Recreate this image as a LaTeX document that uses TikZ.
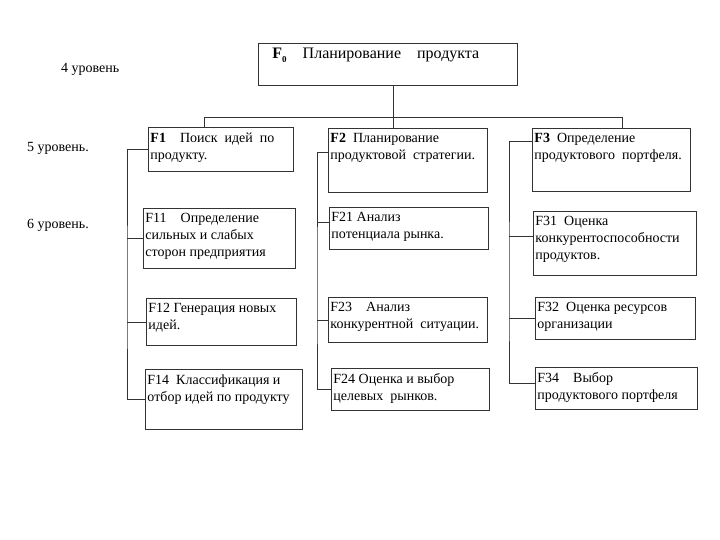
\documentclass[tikz,border=0pt]{standalone}
\usepackage{fontspec}
\setmainfont{Liberation Serif}
\usetikzlibrary{positioning}

% box text: width, height, lines
\newcommand{\cell}[3]{\parbox[t][#2pt][t]{#1pt}{\vspace*{3pt}\raggedright #3}}

\begin{document}
\begin{tikzpicture}[x=1pt,y=-1pt,
   blok/.style={draw=black!80,line width=0.9pt,anchor=north west,inner sep=2pt,
                font=\fontsize{14}{17}\selectfont},
   level/.style={anchor=west,inner sep=0pt,font=\fontsize{14}{16}\selectfont},
   link/.style={draw=black!80,line width=0.9pt}]
   \useasboundingbox (0,0) rectangle (720,540);
   % levels
   \node[level] (lvl4) at (61,69) {4 уровень};
   \node[level] (lvl5) at (27,148) {5 уровень.};
   \node[level] (lvl6) at (27,225) {6 уровень.};
   % boxes
   \node[blok,font=\fontsize{16}{18}\selectfont] (F0) at (258,43)
      {\cell{255}{38}{\hspace*{12pt}\textbf{F}\raisebox{-0.45ex}{\textbf{\small 0}}\quad Планирование\quad продукта}};
   \node[blok] (F1) at (148,127) {\cell{141}{40}{\textbf{F1}\quad Поиск\ \ идей\ \ по\\продукту.}};
   \node[blok] (F2) at (328,128) {\cell{155}{60}{\textbf{F2}\enspace Планирование\\продуктовой\ \ стратегии.}};
   \node[blok] (F3) at (532,128) {\cell{154}{59}{\textbf{F3}\enspace Определение\\продуктового\enspace портфеля.}};
   \node[blok] (F11) at (143,208) {\cell{148}{56}{F11\quad Определение\\сильных и слабых\\сторон предприятия}};
   \node[blok] (F12) at (146,298) {\cell{146}{43}{F12 Генерация новых\\идей.}};
   \node[blok] (F14) at (145,369) {\cell{153}{56}{F14\enspace Классификация и\\отбор идей по продукту}};
   \node[blok] (F21) at (329,207) {\cell{155}{38}{F21 Анализ\\потенциала рынка.}};
   \node[blok] (F23) at (328,297) {\cell{155}{41}{F23\quad Анализ\\конкурентной\enspace ситуации.}};
   \node[blok] (F24) at (331,368) {\cell{154}{38}{F24 Оценка и выбор\\целевых\enspace рынков.}};
   \node[blok] (F31) at (533,211) {\cell{159}{60}{F31\enspace Оценка\\конкурентоспособности\\продуктов.}};
   \node[blok] (F32) at (535,297) {\cell{156}{38}{F32\enspace Оценка ресурсов\\организации}};
   \node[blok] (F34) at (535,367) {\cell{158}{38}{F34\quad Выбор\\продуктового портфеля}};
   % connectors
   \coordinate (hub) at (393,117);
   \coordinate (busL) at (204,117);
   \coordinate (busR) at (622,117);
   \coordinate (b1) at (127,300);
   \coordinate (b2) at (317,300);
   \coordinate (b3) at (509,300);
   \draw[link] (hub |- F0.south) -- (hub |- F2.north);
   \draw[link] (busL |- F1.north) -- (busL) -- (busR) -- (busR |- F3.north);
   \draw[link] (F1.west) -| (b1) |- (F14.west);
   \draw[link] (F11.west) -- (F11.west -| b1);
   \draw[link] (F12.west) -- (F12.west -| b1);
   \draw[link] ([yshift=8pt]F2.west) -| (b2) |- (F24.west);
   \draw[link] ([yshift=6pt]F21.west) -- ([yshift=6pt]F21.west -| b2);
   \draw[link] (F23.west) -- (F23.west -| b2);
   \draw[link] ([yshift=18pt]F3.west) -| (b3) |- ([yshift=5pt]F34.west);
   \draw[link] ([yshift=7pt]F31.west) -- ([yshift=7pt]F31.west -| b3);
   \draw[link] (F32.west) -- (F32.west -| b3);
\end{tikzpicture}
\end{document}
